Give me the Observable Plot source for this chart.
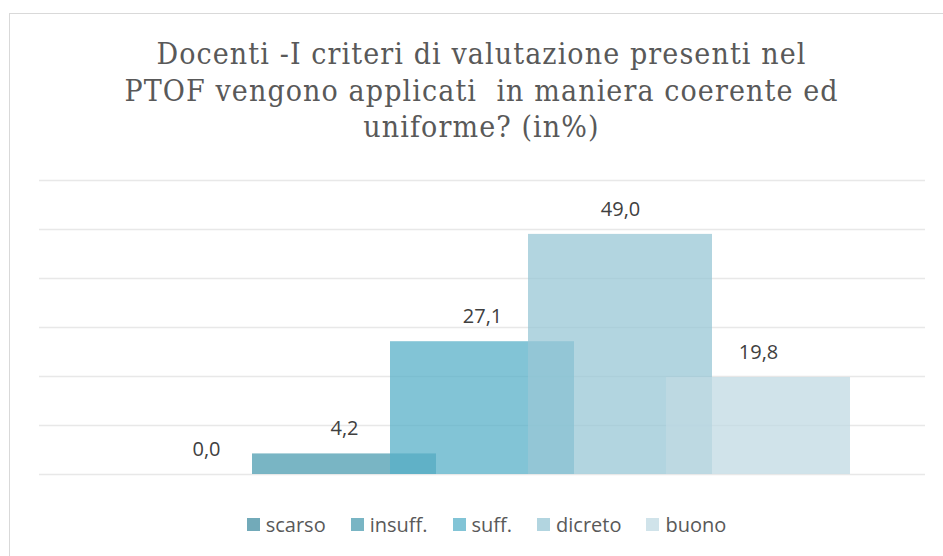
<!DOCTYPE html>
<html>
<head>
<meta charset="utf-8">
<script src="https://cdn.jsdelivr.net/npm/d3@7"></script>
<script src="https://cdn.jsdelivr.net/npm/@observablehq/plot@0.6"></script>
<style>
  html, body { margin: 0; padding: 0; background: #fff; }
  body { width: 943px; height: 556px; overflow: hidden; position: relative; }
  #frame { position: absolute; left: 9px; top: 13px; width: 1000px; height: 600px; border: 1.5px solid #d9d9d9; box-sizing: border-box; }
  #title { position: absolute; left: 0; top: 36px; width: 963px; text-align: center; color: #595959;
    font-family: "DejaVu Serif Condensed", "DejaVu Serif", serif; font-stretch: condensed; font-size: 30px; letter-spacing: 1.1px; line-height: 36.5px; }
  #title div { white-space: pre; }
  #chart { position: absolute; left: 0; top: 0; }
  #legend { position: absolute; left: 0; top: 511px; width: 973px; display: flex; justify-content: center; align-items: center;
    font-family: "Open Sans", sans-serif; font-size: 20px; color: #595959; }
  .item { display: flex; align-items: center; margin: 0 12.5px; }
  .sw { width: 13px; height: 13px; margin-right: 6px; }
</style>
</head>
<body>
<div id="frame"></div>
<div id="title"></div>
<div id="chart"></div>
<div id="legend"></div>
<script>
const titleLines = ["Docenti -I criteri di valutazione presenti nel", "PTOF vengono applicati  in maniera coerente ed", "uniforme? (in%)"];
const categories = ["scarso", "insuff.", "suff.", "dicreto", "buono"];
const values = [0.0, 4.2, 27.1, 49.0, 19.8];
const labels = ["0,0", "4,2", "27,1", "49,0", "19,8"];
const colors = ["#438ea2", "#4c9cb0", "#58b0c8", "#98c7d6", "#c0dae3"];
const gridValues = [0, 10, 20, 30, 40, 50, 60];

const data = categories.map((c, i) => ({category: c, value: values[i], label: labels[i]}));

const t = document.getElementById("title");
titleLines.forEach(l => { const d = document.createElement("div"); d.textContent = l; t.appendChild(d); });

const plot = Plot.plot({
  width: 943,
  height: 556,
  marginTop: 180,
  marginBottom: 82,
  marginLeft: 39,
  marginRight: 18,
  style: {background: "transparent", fontFamily: "Open Sans, sans-serif"},
  x: {domain: categories, type: "band", paddingInner: -0.332, paddingOuter: 0.523, axis: null},
  y: {domain: [0, 60], axis: null},
  color: {domain: categories, range: colors},
  marks: [
    Plot.ruleY(gridValues, {stroke: "#e8e8e8", strokeWidth: 1.4}),
    Plot.barY(data, {x: "category", y: "value", fill: "category", fillOpacity: 0.75}),
    Plot.text(data, {x: "category", y: "value", text: "label", dy: -25, fontSize: 20, fill: "#404040"})
  ]
});
document.getElementById("chart").appendChild(plot);

const lg = document.getElementById("legend");
categories.forEach((c, i) => {
  const it = document.createElement("div"); it.className = "item";
  const sw = document.createElement("div"); sw.className = "sw"; sw.style.background = colors[i]; sw.style.opacity = 0.75;
  const tx = document.createElement("span"); tx.textContent = c;
  it.appendChild(sw); it.appendChild(tx); lg.appendChild(it);
});
</script>
</body>
</html>
